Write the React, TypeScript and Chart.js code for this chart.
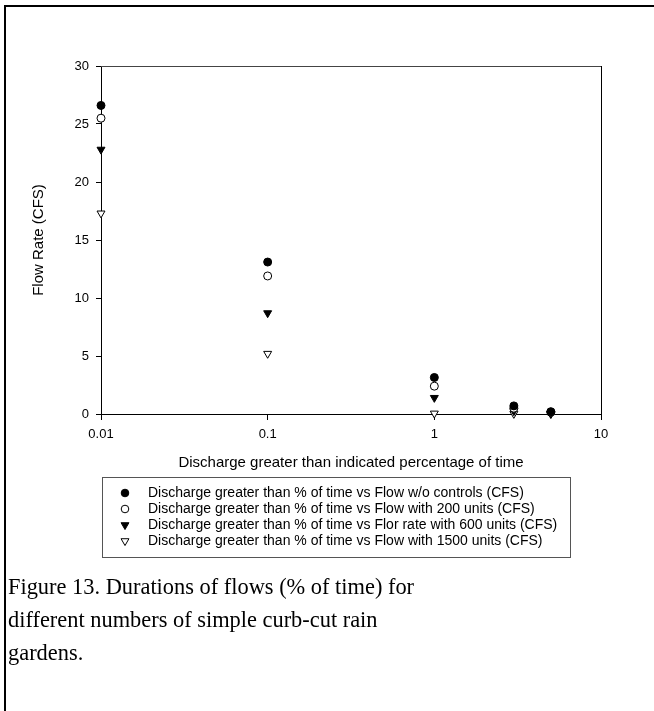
import React, { useEffect, useRef } from "react";
import { Chart, registerables } from "chart.js";

Chart.register(...registerables);

// Percentage of time a discharge is exceeded
const percentTime = [0.01, 0.1, 1, 3, 5];

// Flow rates (CFS) for each scenario
const flowNoControls = [26.6, 13.1, 3.15, 0.7, 0.2];
const flow200Units = [25.5, 11.9, 2.4, 0.5, 0.15];
const flow600Units = [22.8, 8.7, 1.4, 0.25, 0.05];
const flow1500Units = [17.3, 5.2, 0.05, 0.02, 0.0];

const xTicks = [0.01, 0.1, 1, 10];
const yTicks = [0, 5, 10, 15, 20, 25, 30];

const seriesLabels = [
  "Discharge greater than % of time vs Flow w/o controls (CFS)",
  "Discharge greater than % of time vs Flow with 200 units (CFS)",
  "Discharge greater than % of time vs Flor rate with 600 units (CFS)",
  "Discharge greater than % of time vs Flow with 1500 units (CFS)",
];

const captionLines = [
  "Figure 13. Durations of flows (% of time) for",
  "different numbers of simple curb-cut rain",
  "gardens.",
];

const axisFont = "Arial, 'Liberation Sans', sans-serif";

const toPoints = (ys: number[]) => percentTime.map((x, i) => ({ x, y: ys[i] }));

function drawMarker(
  ctx: CanvasRenderingContext2D,
  style: string,
  rotation: number,
  x: number,
  y: number,
  r: number,
  fill: string
) {
  ctx.beginPath();
  if (style === "circle") {
    ctx.arc(x, y, r, 0, Math.PI * 2);
  } else {
    const rad = (rotation * Math.PI) / 180;
    for (let k = 0; k < 3; k++) {
      const a = rad - Math.PI / 2 + (k * 2 * Math.PI) / 3;
      const px = x + Math.cos(a) * r * 1.2;
      const py = y + Math.sin(a) * r * 1.2;
      if (k === 0) ctx.moveTo(px, py);
      else ctx.lineTo(px, py);
    }
    ctx.closePath();
  }
  ctx.fillStyle = fill;
  ctx.fill();
  ctx.stroke();
}

// Closes the plot frame (top and right edges) and draws the boxed legend
const framePlugin = {
  id: "frameAndLegend",
  afterDraw(chart: any) {
    const { ctx, chartArea } = chart;
    ctx.save();
    ctx.lineWidth = 1;
    ctx.strokeStyle = "#444";
    ctx.beginPath();
    ctx.moveTo(chartArea.left, chartArea.top + 0.5);
    ctx.lineTo(chartArea.right, chartArea.top + 0.5);
    ctx.stroke();
    ctx.strokeStyle = "#000";
    ctx.beginPath();
    ctx.moveTo(chartArea.right + 0.5, chartArea.top);
    ctx.lineTo(chartArea.right + 0.5, chartArea.bottom);
    ctx.stroke();

    // legend box
    const boxL = 102;
    const boxT = 477;
    const boxR = 570;
    const boxB = 557;
    ctx.strokeStyle = "#555";
    ctx.strokeRect(boxL + 0.5, boxT + 0.5, boxR - boxL, boxB - boxT);

    ctx.font = `14px ${axisFont}`;
    ctx.textBaseline = "middle";
    ctx.textAlign = "left";
    chart.data.datasets.forEach((ds: any, i: number) => {
      const y = 493 + i * 16;
      ctx.save();
      ctx.strokeStyle = "#000";
      ctx.lineWidth = 1;
      drawMarker(ctx, ds.pointStyle, ds.pointRotation || 0, 125, y, 3.8, ds.pointBackgroundColor);
      ctx.restore();
      ctx.fillStyle = "#000";
      ctx.fillText(ds.label, 148, y + 0.5);
    });
    ctx.restore();
  },
};

export default function App() {
  const canvasRef = useRef<HTMLCanvasElement | null>(null);

  useEffect(() => {
    const canvas = canvasRef.current;
    if (!canvas) return;

    const makeSet = (label: string, ys: number[], style: string, rot: number, fill: string) => ({
      label,
      data: toPoints(ys),
      pointStyle: style,
      pointRotation: rot,
      pointBackgroundColor: fill,
      pointBorderColor: "#000",
      pointBorderWidth: 1,
      pointRadius: style === "circle" ? 4 : 4.6,
      showLine: false,
      clip: false,
    });

    const chart = new Chart(canvas, {
      type: "scatter",
      data: {
        datasets: [
          makeSet(seriesLabels[0], flowNoControls, "circle", 0, "#000"),
          makeSet(seriesLabels[1], flow200Units, "circle", 0, "#fff"),
          makeSet(seriesLabels[2], flow600Units, "triangle", 180, "#000"),
          makeSet(seriesLabels[3], flow1500Units, "triangle", 180, "#fff"),
        ],
      },
      options: {
        animation: false,
        responsive: false,
        maintainAspectRatio: false,
        layout: { padding: { left: 30, top: 66, right: 53, bottom: 239 } },
        plugins: {
          legend: { display: false },
          tooltip: { enabled: false },
        },
        scales: {
          x: {
            type: "logarithmic",
            min: 0.01,
            max: 10,
            afterBuildTicks: (scale: any) => {
              scale.ticks = xTicks.map((v) => ({ value: v }));
            },
            afterFit: (scale: any) => {
              scale.height = 58;
            },
            ticks: {
              autoSkip: false,
              maxRotation: 0,
              padding: 7,
              color: "#000",
              font: { family: axisFont, size: 13 },
              callback: (v: any) => String(v),
            },
            grid: {
              display: true,
              drawOnChartArea: false,
              drawTicks: true,
              tickLength: 6,
              color: "#000",
            },
            border: { display: true, color: "#000", width: 1 },
            title: {
              display: true,
              text: "Discharge greater than indicated percentage of time",
              color: "#000",
              font: { family: axisFont, size: 15 },
              padding: 0,
            },
          },
          y: {
            type: "linear",
            min: 0,
            max: 30,
            afterBuildTicks: (scale: any) => {
              scale.ticks = yTicks.map((v) => ({ value: v }));
            },
            afterFit: (scale: any) => {
              scale.width = 71;
            },
            ticks: {
              padding: 7,
              color: "#000",
              font: { family: axisFont, size: 13 },
            },
            grid: {
              display: true,
              drawOnChartArea: false,
              drawTicks: true,
              tickLength: 5,
              color: "#000",
            },
            border: { display: true, color: "#000", width: 1 },
            title: {
              display: true,
              text: "Flow Rate (CFS)",
              color: "#000",
              font: { family: axisFont, size: 15 },
              padding: 0,
            },
          },
        },
      },
      plugins: [framePlugin],
    } as any);

    return () => chart.destroy();
  }, []);

  return (
    <div
      style={{
        position: "fixed",
        left: 0,
        top: 0,
        width: 654,
        height: 711,
        background: "#fff",
        overflow: "hidden",
      }}
    >
      <canvas
        ref={canvasRef}
        width={654}
        height={711}
        style={{ position: "absolute", left: 0, top: 0, width: 654, height: 711 }}
      />
      <div
        style={{
          position: "absolute",
          left: 4,
          top: 5,
          width: 660,
          height: 720,
          borderTop: "2px solid #000",
          borderLeft: "2px solid #000",
          pointerEvents: "none",
        }}
      />
      <div
        style={{
          position: "absolute",
          left: 8,
          top: 570,
          fontFamily: "'Liberation Serif', 'Times New Roman', serif",
          fontSize: 22.4,
          lineHeight: "33px",
          color: "#000",
          whiteSpace: "nowrap",
        }}
      >
        {captionLines.map((line, i) => (
          <div key={i}>{line}</div>
        ))}
      </div>
    </div>
  );
}
